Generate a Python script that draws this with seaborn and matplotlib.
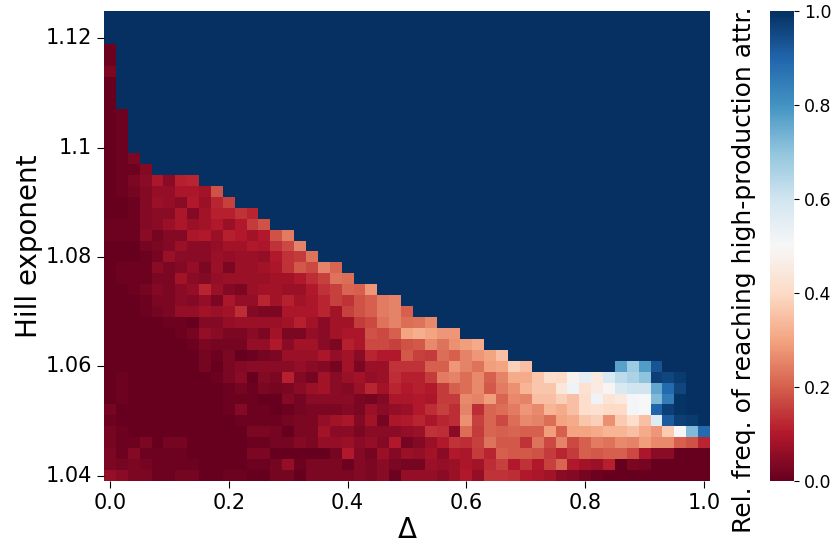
import matplotlib
matplotlib.use("Agg")
import matplotlib.pyplot as plt
import numpy as np
import pandas as pd
import seaborn as sns

DELTA = [round(i * 0.02, 2) for i in range(51)]
HILL = [round(1.124 - i * 0.002, 3) for i in range(43)]

# percent of runs, rows from the top of the picture, cells left to right.
# cells not listed at the end of a row are saturated at 100
PERCENT = [
    [],
    [],
    [],
    [1],
    [1],
    [3],
    [0],
    [0],
    [0],
    [0, 1],
    [0, 1],
    [0, 1],
    [0, 1],
    [0, 1, 3],
    [0, 1, 1, 4],
    [0, 1, 3, 5, 9, 5, 11, 12],
    [0, 1, 2, 4, 6, 6, 9, 9, 8, 18],
    [0, 0, 1, 4, 7, 6, 5, 10, 7, 12, 16],
    [0, 0, 1, 4, 5, 5, 9, 4, 8, 11, 11, 14, 12],
    [1, 1, 1, 4, 5, 7, 9, 7, 8, 10, 7, 10, 15, 18],
    [1, 1, 1, 5, 2, 4, 4, 9, 10, 7, 11, 10, 8, 10, 18, 24],
    [0, 0, 0, 2, 3, 4, 7, 5, 5, 6, 8, 8, 10, 9, 14, 17, 25],
    [0, 0, 0, 1, 2, 7, 5, 5, 5, 7, 6, 7, 7, 6, 10, 14, 15, 23],
    [0, 1, 1, 1, 5, 3, 4, 6, 3, 7, 3, 7, 7, 8, 9, 14, 19, 17, 25, 21],
    [0, 1, 1, 1, 3, 3, 8, 5, 4, 6, 7, 7, 7, 7, 8, 8, 10, 13, 16, 23, 22],
    [0, 0, 1, 2, 4, 3, 5, 6, 12, 7, 4, 3, 7, 8, 8, 7, 7, 10, 14, 16, 21, 20, 28],
    [0, 0, 0, 1, 3, 3, 5, 4, 6, 3, 9, 6, 6, 12, 8, 11, 8, 9, 12, 16, 14, 18, 20, 24, 25],
    [0, 0, 0, 1, 2, 3, 6, 6, 8, 7, 8, 13, 4, 3, 3, 9, 9, 9, 12, 8, 16, 18, 20, 24, 25, 20],
    [0, 0, 0, 0, 0, 1, 1, 0, 4, 4, 6, 7, 7, 7, 7, 8, 11, 8, 5, 8, 8, 15, 17, 23, 25, 22, 23, 26],
    [0, 0, 0, 0, 0, 0, 1, 2, 6, 5, 3, 3, 5, 3, 8, 3, 3, 6, 5, 8, 9, 9, 18, 17, 20, 30, 32, 30, 28, 28],
    [0, 0, 0, 0, 0, 0, 0, 1, 3, 2, 2, 2, 6, 6, 10, 5, 8, 8, 5, 3, 11, 9, 17, 17, 16, 18, 19, 26, 23, 27, 29, 31],
    [0, 0, 0, 0, 0, 0, 0, 0, 2, 1, 3, 0, 1, 2, 3, 7, 7, 7, 9, 6, 8, 5, 12, 10, 10, 19, 16, 15, 22, 20, 25, 28, 30, 35],
    [0, 0, 0, 0, 0, 0, 0, 0, 2, 0, 3, 4, 5, 5, 5, 5, 6, 5, 4, 2, 8, 3, 7, 7, 14, 14, 14, 20, 20, 28, 25, 23, 29, 30, 38, 35,
     100, 100, 100, 100, 100, 100, 100, 77, 68, 78, 93],
    [0, 1, 0, 0, 0, 0, 0, 0, 0, 1, 3, 5, 0, 4, 3, 11, 4, 2, 8, 5, 7, 8, 6, 7, 13, 11, 11, 15, 24, 25, 22, 26, 20, 25, 31, 31,
     36, 41, 40, 48, 55, 45, 58, 63, 66, 70, 97, 96, 98],
    [0, 1, 0, 0, 0, 0, 0, 0, 0, 0, 1, 2, 1, 3, 2, 3, 5, 7, 8, 5, 4, 7, 12, 8, 12, 10, 11, 10, 15, 20, 22, 26, 19, 24, 27, 33,
     36, 36, 44, 52, 42, 46, 49, 58, 60, 60, 76, 89, 96],
    [0, 1, 0, 0, 0, 0, 0, 0, 0, 0, 1, 1, 1, 0, 0, 4, 2, 5, 5, 5, 5, 3, 2, 4, 9, 9, 10, 9, 15, 15, 26, 25, 29, 21, 26, 25,
     35, 35, 38, 35, 41, 52, 43, 45, 51, 50, 72, 85, 99],
    [2, 0, 0, 0, 0, 0, 0, 0, 0, 0, 1, 4, 1, 1, 0, 1, 2, 3, 3, 3, 4, 3, 7, 5, 6, 7, 10, 13, 16, 13, 25, 13, 21, 22, 24, 28,
     26, 33, 31, 35, 41, 42, 40, 40, 51, 50, 90, 97, 99],
    [1, 0, 0, 0, 0, 0, 0, 0, 0, 0, 0, 1, 1, 1, 1, 2, 3, 3, 6, 8, 9, 4, 8, 2, 9, 10, 12, 9, 12, 13, 27, 16, 21, 17, 22, 26,
     25, 22, 30, 31, 36, 38, 27, 37, 41, 35, 57, 92, 97, 98],
    [2, 1, 0, 0, 0, 0, 0, 0, 0, 0, 0, 0, 3, 3, 2, 0, 3, 3, 8, 5, 5, 3, 5, 5, 5, 6, 7, 14, 13, 5, 22, 15, 21, 20, 21, 20,
     20, 29, 20, 30, 30, 31, 33, 33, 35, 31, 28, 37, 51, 72, 89],
    [2, 1, 1, 3, 0, 2, 2, 0, 0, 0, 0, 0, 1, 1, 2, 2, 4, 3, 6, 6, 7, 5, 6, 4, 10, 2, 4, 7, 10, 14, 13, 16, 23, 19, 19, 14,
     23, 17, 25, 17, 20, 24, 23, 26, 25, 29, 26, 26, 20, 18, 12],
    [3, 1, 4, 1, 1, 1, 1, 0, 0, 0, 0, 0, 3, 3, 0, 0, 0, 0, 0, 2, 10, 4, 2, 7, 4, 7, 6, 8, 5, 10, 9, 15, 12, 20, 19, 19,
     18, 15, 12, 15, 20, 19, 20, 20, 17, 9, 5, 5, 0, 0, 0],
    [3, 2, 3, 2, 1, 1, 1, 1, 0, 0, 0, 0, 1, 1, 2, 6, 1, 3, 3, 3, 1, 4, 3, 5, 3, 2, 2, 7, 6, 7, 9, 8, 13, 16, 10, 14,
     10, 16, 21, 10, 8, 7, 11, 0, 3, 2, 0, 0, 0, 0, 0],
    [6, 5, 3, 3, 1, 1, 2, 2, 0, 0, 1, 1, 0, 0, 2, 2, 0, 3, 3, 3, 3, 4, 3, 5, 1, 6, 6, 6, 5, 7, 10, 6, 14, 14, 13, 10,
     9, 8, 5, 4, 2, 1, 0, 0, 0, 0, 0, 0, 0, 0, 0],
]
TICK_SIZE = 15
LABEL_SIZE = 20

freq = [[v / 100 for v in row] + [1.0] * (len(DELTA) - len(row)) for row in PERCENT]
df = pd.DataFrame(freq, index=HILL, columns=DELTA).sort_index()

fig = plt.figure(figsize=(8.35, 5.46), dpi=100)
ax = fig.add_axes([104 / 835, 1 - 481 / 546, 606 / 835, 470 / 546])
cax = fig.add_axes([770 / 835, 1 - 481 / 546, 24 / 835, 470 / 546])

sns.heatmap(df, cmap="RdBu", vmin=0, vmax=1, xticklabels=10, yticklabels=10,
            ax=ax, cbar_ax=cax)
ax.invert_yaxis()
ax.tick_params(axis="both", labelsize=TICK_SIZE, length=5)
ax.tick_params(axis="x", labelrotation=0)
ax.tick_params(axis="y", labelrotation=0)
ax.set_xlabel("Δ", fontsize=LABEL_SIZE, labelpad=2)
ax.set_ylabel("Hill exponent", fontsize=LABEL_SIZE, labelpad=2)

cax.tick_params(labelsize=12.5)
cax.set_ylabel("Rel. freq. of reaching high-production attr.", fontsize=18)
cax.yaxis.set_label_position("left")
# label sits lower than the bar centre in the original
cax.yaxis.set_label_coords(-0.58, 0.449)

fig.savefig("out.png", dpi=100)
